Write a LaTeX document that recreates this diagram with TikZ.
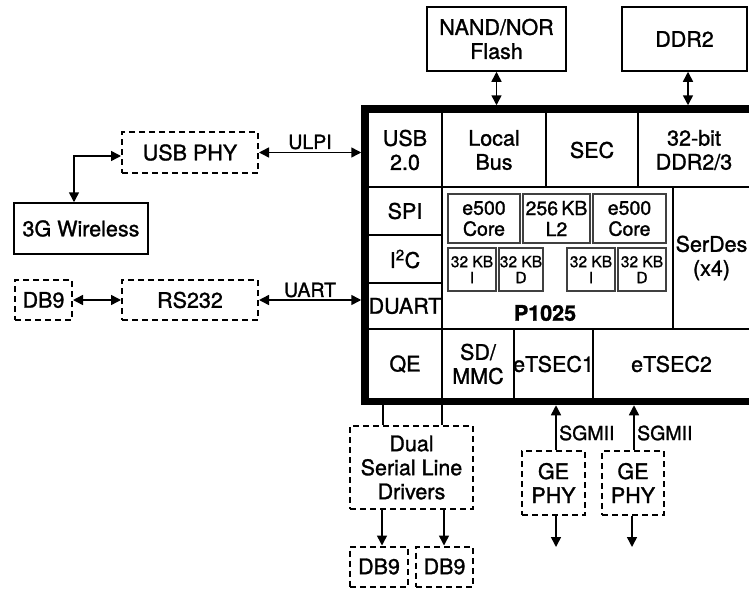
\documentclass[tikz,border=0pt]{standalone}
\usepackage{fontspec}
\setmainfont{TeX Gyre Heros}[FakeBold=1.3]
\usetikzlibrary{arrows.meta}
\begin{document}
\begin{tikzpicture}[x=1pt,y=-1pt,
  every node/.style={inner sep=0pt, align=center},
  cell/.style={font=\fontsize{21.5}{24}\selectfont},
  lbl/.style={font=\fontsize{19.5}{22}\selectfont},
  solidbox/.style={draw, line width=1.5pt, cell},
  dashbox/.style={draw, line width=2pt, dash pattern=on 6pt off 4pt, cell},
  corebox/.style={draw=black!75, line width=1.2pt, font=\fontsize{19.5}{21}\selectfont},
  smallbox/.style={draw=black!75, line width=1.2pt, font=\fontsize{15.5}{16}\selectfont},
  chipbox/.style={draw, line width=7.5pt},
  gridline/.style={line width=1.5pt},
  conn/.style={line width=1.5pt},
  biarrow/.style={conn, {Triangle[length=10pt,width=10pt]}-{Triangle[length=10pt,width=10pt]}},
  onearrow/.style={conn, -{Triangle[length=10pt,width=10pt]}}]
\useasboundingbox (0,0) rectangle (749,589);
\clip (0,0) rectangle (749,589);
% chip frame
\node[chipbox, minimum width=389pt, minimum height=292.5pt] (chip) at (559.5,255.25) {};
% internal grid
\draw[gridline] (368,187) -- (754,187);
\draw[gridline] (368,329) -- (754,329);
\draw[gridline] (442,113) -- (442,398);
\draw[gridline] (546,113) -- (546,187);
\draw[gridline] (638,113) -- (638,187);
\draw[gridline] (673,187) -- (673,329);
\draw[gridline] (368,235) -- (442,235);
\draw[gridline] (368,283) -- (442,283);
\draw[gridline] (514,329) -- (514,398);
\draw[gridline] (593,329) -- (593,398);
% cell labels
\node[cell] (usb) at (405,150) {USB\\2.0};
\node[cell] (lbus) at (494,150) {Local\\Bus};
\node[cell] (sec) at (592,150) {SEC};
\node[cell] (ddrc) at (694,150) {32-bit\\DDR2/3};
\node[cell] (spi) at (405,211) {SPI};
\node[cell] (i2c) at (405,259) {I\textsuperscript{2}C};
\node[cell] (duart) at (405,306) {DUART};
\node[cell] (qe) at (405,364) {QE};
\node[cell] (sdmmc) at (478,364) {SD/\\MMC};
\node[cell] (etsec1) at (553.5,364) {eTSEC1};
\node[cell] (etsec2) at (671.5,364) {eTSEC2};
\node[cell] (serdes) at (711.5,258) {SerDes\\(x4)};
\node[cell, font=\fontsize{21.5}{24}\selectfont\bfseries] (p1025) at (545,313) {P1025};
% core blocks
\node[corebox, minimum width=72pt, minimum height=49pt] (core1) at (484,218.5) {e500\\Core};
\node[corebox, minimum width=67pt, minimum height=49pt] (l2) at (556.5,218.5) {256\,KB\\L2};
\node[corebox, minimum width=73pt, minimum height=49pt] (core2) at (629.5,218.5) {e500\\Core};
\node[smallbox, minimum width=48pt, minimum height=43pt] (i1) at (472,269.5) {32 KB\\I};
\node[smallbox, minimum width=44pt, minimum height=43pt] (d1) at (521,269.5) {32 KB\\D};
\node[smallbox, minimum width=48pt, minimum height=43pt] (i2) at (591,269.5) {32 KB\\I};
\node[smallbox, minimum width=48pt, minimum height=43pt] (d2) at (642,269.5) {32 KB\\D};
% external blocks
\node[solidbox, minimum width=139pt, minimum height=64pt] (nand) at (496.5,39) {NAND/NOR\\Flash};
\node[solidbox, minimum width=125pt, minimum height=64pt] (ddr2) at (684.5,39) {DDR2};
\node[dashbox, minimum width=136pt, minimum height=41pt] (usbphy) at (190,152.5) {USB PHY};
\node[solidbox, minimum width=134pt, minimum height=51pt] (wireless) at (81,228.5) {3G Wireless};
\node[dashbox, minimum width=57pt, minimum height=40pt] (db9a) at (43.5,300) {DB9};
\node[dashbox, minimum width=136pt, minimum height=40pt] (rs232) at (190,300) {RS232};
\node[dashbox, minimum width=123pt, minimum height=83pt] (drivers) at (411.5,467.5) {Dual\\Serial Line\\Drivers};
\node[dashbox, minimum width=58pt, minimum height=40pt] (db9b) at (379,566.5) {DB9};
\node[dashbox, minimum width=57pt, minimum height=40pt] (db9c) at (444.5,566.5) {DB9};
\node[dashbox, minimum width=63pt, minimum height=64pt] (ge1) at (553.5,483) {GE\\PHY};
\node[dashbox, minimum width=62pt, minimum height=64pt] (ge2) at (633,483) {GE\\PHY};
% connectors
\draw[biarrow] (nand.south) -- (nand.south |- chip.north);
\draw[biarrow] ([xshift=3.5pt]ddr2.south) -- ([xshift=3.5pt]ddr2.south |- chip.north);
\draw[biarrow] (usbphy.east) -- (usbphy.east -| chip.west);
\draw[biarrow] (rs232.east) -- (rs232.east -| chip.west);
\draw[biarrow] (db9a.east) -- (rs232.west);
\draw[biarrow] ([xshift=-7pt]wireless.north) |- ([yshift=-3.5pt]usbphy.west);
\node[lbl] (ulpi) at (310,142) {ULPI};
\node[lbl] (uart) at (310,290) {UART};
\draw[conn] ([xshift=-28.5pt]drivers.north) -- ([xshift=-28.5pt]drivers.north |- chip.south);
\draw[conn] ([xshift=30.5pt]drivers.north) -- ([xshift=30.5pt]drivers.north |- chip.south);
\draw[onearrow] ([xshift=-29.5pt]drivers.south) -- ([xshift=-29.5pt]drivers.south |- db9b.north);
\draw[onearrow] ([xshift=32.5pt]drivers.south) -- ([xshift=32.5pt]drivers.south |- db9c.north);
\draw[onearrow] ([xshift=2.5pt]ge1.north) -- ([xshift=2.5pt]ge1.north |- chip.south);
\draw[onearrow] ([xshift=1pt]ge2.north) -- ([xshift=1pt]ge2.north |- chip.south);
\node[lbl, anchor=west] (sg1) at (559,433) {SGMII};
\node[lbl, anchor=west] (sg2) at (637,433) {SGMII};
\coordinate (out1) at (556,547);
\coordinate (out2) at (632,547);
\draw[onearrow] ([xshift=2.5pt]ge1.south) -- (out1);
\draw[onearrow] ([xshift=-1pt]ge2.south) -- (out2);
\end{tikzpicture}
\end{document}
